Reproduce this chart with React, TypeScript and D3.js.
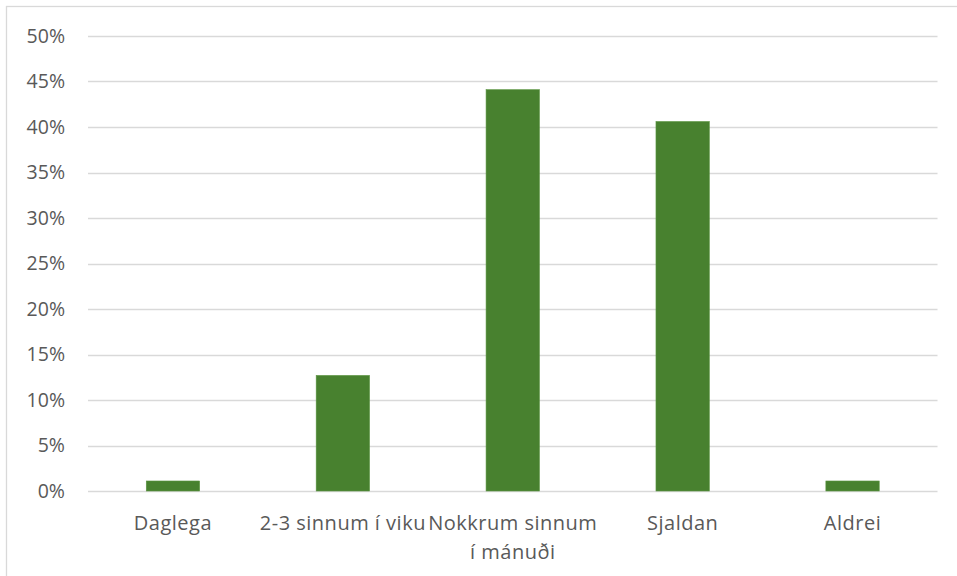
import React from "react";
import * as d3 from "d3";

const categories = ["Daglega", "2-3 sinnum í viku", "Nokkrum sinnum í mánuði", "Sjaldan", "Aldrei"];
const categoryLines = [["Daglega"], ["2-3 sinnum í viku"], ["Nokkrum sinnum", "í mánuði"], ["Sjaldan"], ["Aldrei"]];
const values = [0.011, 0.127, 0.441, 0.406, 0.011];
const yTicks = [0, 0.05, 0.1, 0.15, 0.2, 0.25, 0.3, 0.35, 0.4, 0.45, 0.5];

export default function App() {
  const W = 957, H = 576;
  const left = 88, right = 937.5, top = 36, bottom = 491;
  const x = d3.scaleBand<string>().domain(categories).range([left, right]).paddingInner(0.686).paddingOuter(0.343);
  const y = d3.scaleLinear().domain([0, 0.5]).range([bottom, top]);
  const fmt = d3.format(".0%");
  const font = "'Open Sans', sans-serif";
  return (
    <svg width={W} height={H} style={{ position: "absolute", left: 0, top: 0, background: "#fff" }}>
      <rect x={6.5} y={6.5} width={W + 10} height={H + 10} fill="#fff" stroke="#d9d9d9" strokeWidth={1.3} />
      {yTicks.map((t) => (
        <g key={t}>
          <line x1={left} x2={right} y1={Math.round(y(t)) + 0.5} y2={Math.round(y(t)) + 0.5} stroke="#d9d9d9" strokeWidth={1.3} />
          <text x={65} y={y(t)} dy="0.35em" textAnchor="end" fontFamily={font} fontSize={19.5} fill="#595959">
            {fmt(t)}
          </text>
        </g>
      ))}
      {categories.map((c, i) => (
        <rect key={c} x={x(c)} y={y(values[i])} width={x.bandwidth()} height={bottom - y(values[i])} fill="#48812f" stroke="#5a9440" strokeWidth={0.6} />
      ))}
      {categories.map((c, i) => (
        <text key={c} x={(x(c) as number) + x.bandwidth() / 2} y={523} textAnchor="middle" fontFamily={font} fontSize={20} letterSpacing={0.5} fill="#595959">
          {categoryLines[i].map((l, j) => (
            <tspan key={j} x={(x(c) as number) + x.bandwidth() / 2} dy={j === 0 ? "0.35em" : 29}>
              {l}
            </tspan>
          ))}
        </text>
      ))}
    </svg>
  );
}
